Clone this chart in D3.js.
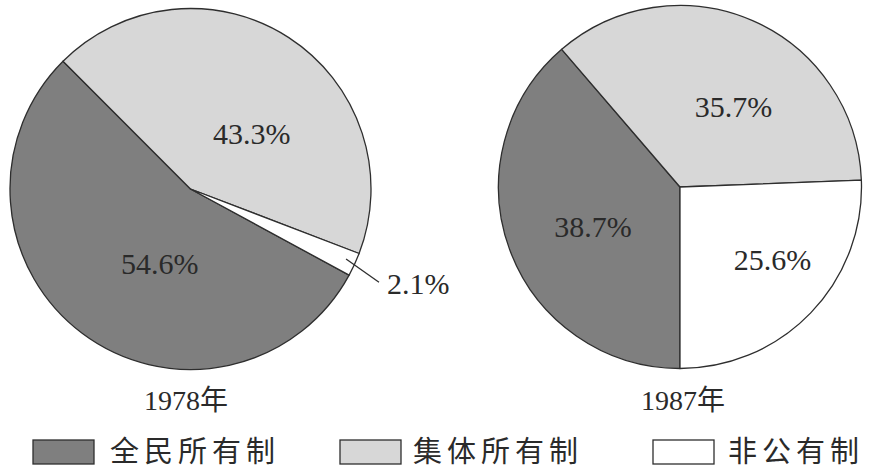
<!DOCTYPE html>
<html><head><meta charset="utf-8">
<script src="https://cdn.jsdelivr.net/npm/d3@7"></script>
<style>
html,body{margin:0;padding:0;background:#fff;}
svg{display:block;}
</style></head>
<body>
<svg id="chart" width="870" height="476"></svg>
<script>
// ---- data ----
const categories = ["全民所有制", "集体所有制", "非公有制"];
const years = ["1978年", "1987年"];
const values1978 = [54.6, 43.3, 2.1];
const values1987 = [38.7, 35.7, 25.6];
const labels1978 = ["54.6%", "43.3%", "2.1%"];
const labels1987 = ["38.7%", "35.7%", "25.6%"];

// ---- styles / layout ----
const colors = ["#7f7f7f", "#d7d7d7", "#ffffff"];
const stroke = "#2e2e2e";
const textColor = "#2a2a2a";
const serif = "Liberation Serif, serif";
const svg = d3.select("#chart");
const deg = Math.PI / 180;

const pies = [
  { cx: 190.5, cy: 189, r: 180.5, start: 118.5, values: values1978, labels: labels1978, year: years[0], yearX: 186,
    lab: [[-0.17, 0.41], [0.34, -0.31], null] },
  { cx: 680, cy: 187, r: 181.5, start: 180, values: values1987, labels: labels1987, year: years[1], yearX: 683,
    lab: [[-0.48, 0.22], [0.295, -0.445], [0.51, 0.40]] }
];

pies.forEach(p => {
  const g = svg.append("g").attr("transform", `translate(${p.cx},${p.cy})`);
  const pie = d3.pie().sort(null).value(d => d)
    .startAngle(p.start * deg).endAngle(p.start * deg + 2 * Math.PI);
  const arcs = pie(p.values);
  const arc = d3.arc().innerRadius(0).outerRadius(p.r);
  g.selectAll("path.slice").data(arcs).enter().append("path")
    .attr("class", "slice")
    .attr("d", arc)
    .attr("fill", (d, i) => colors[i])
    .attr("stroke", stroke)
    .attr("stroke-width", 1.3)
    .attr("stroke-linejoin", "round");

  arcs.forEach((a, i) => {
    const off = p.lab[i];
    if (off) {
      g.append("text")
        .attr("x", off[0] * p.r).attr("y", off[1] * p.r)
        .attr("text-anchor", "middle").attr("dy", "0.35em")
        .style("font-family", serif)
        .attr("font-size", 30).attr("fill", textColor)
        .text(p.labels[i]);
    } else {
      const mid = (a.startAngle + a.endAngle) / 2;
      const p1 = [Math.sin(mid - 0.5 * deg) * p.r * 0.945, -Math.cos(mid - 0.5 * deg) * p.r * 0.945];
      const p2 = [Math.sin(mid + 1.6 * deg) * p.r * 1.165, -Math.cos(mid + 1.6 * deg) * p.r * 1.165];
      g.append("line")
        .attr("x1", p1[0]).attr("y1", p1[1]).attr("x2", p2[0]).attr("y2", p2[1])
        .attr("stroke", stroke).attr("stroke-width", 1.3);
      g.append("text")
        .attr("x", p2[0] + 8).attr("y", p2[1] + 1)
        .attr("text-anchor", "start").attr("dy", "0.35em")
        .style("font-family", serif)
        .attr("font-size", 30).attr("fill", textColor)
        .text(p.labels[i]);
    }
  });

  svg.append("text")
    .attr("x", p.yearX).attr("y", 410)
    .attr("text-anchor", "middle")
    .style("font-family", "Liberation Serif, Noto Sans CJK SC, serif")
    .attr("font-size", 28).attr("fill", textColor)
    .text(p.year);
});

// ---- legend ----
const legendX = [33, 340, 653];
const lg = svg.selectAll("g.legend").data(categories).enter().append("g")
  .attr("class", "legend")
  .attr("transform", (d, i) => `translate(${legendX[i]},440)`);
lg.append("rect")
  .attr("x", 0).attr("y", 0).attr("width", 61).attr("height", 24)
  .attr("fill", (d, i) => colors[i])
  .attr("stroke", stroke).attr("stroke-width", 1.3);
lg.append("text")
  .attr("x", (d, i) => [77, 73, 75][i]).attr("y", 12)
  .attr("dy", "0.36em")
  .style("font-family", "Noto Sans CJK SC, sans-serif")
  .attr("font-size", 29).attr("font-weight", 400)
  .attr("letter-spacing", 5)
  .attr("fill", textColor)
  .text(d => d);
</script>
</body></html>
